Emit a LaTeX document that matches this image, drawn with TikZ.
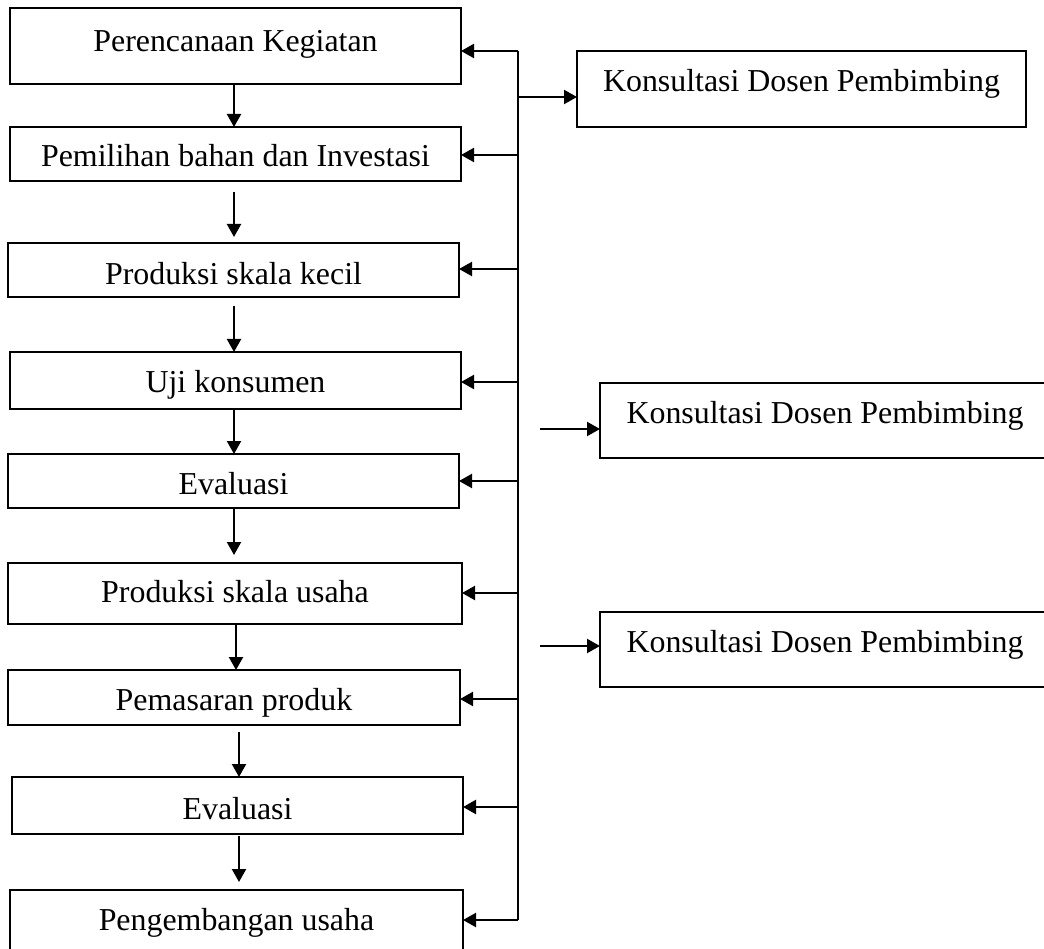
\documentclass[tikz,border=0pt]{standalone}
\usepackage{fontspec}
\setmainfont{Liberation Serif}
\usetikzlibrary{arrows.meta}
\newcommand\txtup[2]{\raisebox{#1pt}{#2}}
\begin{document}
\begin{tikzpicture}[x=1pt,y=-1pt,
  box/.style={draw, line width=2.2pt, inner sep=0pt, outer sep=0pt,
    text height=21pt, text depth=0pt, font=\fontsize{31.9}{38}\selectfont},
  arr/.style={line width=2.2pt, -{Triangle[length=13pt,width=14pt]}},
  trunk/.style={line width=2.2pt}]
\useasboundingbox (0,0) rectangle (1044,949);
% main column
\node[box, minimum width=451, minimum height=76] (b1) at (235.5,46)  {\txtup{5}{Perencanaan Kegiatan}};
\node[box, minimum width=451, minimum height=54] (b2) at (235.5,154) {\txtup{-2}{Pemilihan bahan dan Investasi}};
\node[box, minimum width=451, minimum height=54] (b3) at (233.5,270) {\txtup{-4}{Produksi skala kecil}};
\node[box, minimum width=451, minimum height=57] (b4) at (235.5,380.5) {\txtup{-1.5}{Uji konsumen}};
\node[box, minimum width=451, minimum height=54] (b5) at (233.5,481) {\txtup{-3}{Evaluasi}};
\node[box, minimum width=454, minimum height=61] (b6) at (235,593.5) {\txtup{1.5}{Produksi skala usaha}};
\node[box, minimum width=452, minimum height=55] (b7) at (234,697.5) {\txtup{-2.5}{Pemasaran produk}};
\node[box, minimum width=451, minimum height=57] (b8) at (237.5,805.5) {\txtup{-3.5}{Evaluasi}};
\node[box, minimum width=453, minimum height=62] (b9) at (236.5,921) {\txtup{1}{Pengembangan usaha}};
% consultation boxes
\node[box, minimum width=449, minimum height=76] (k1) at (801.5,89)  {\txtup{8}{Konsultasi Dosen Pembimbing}};
\node[box, minimum width=450, minimum height=75] (k2) at (825,420.5) {\txtup{7.5}{Konsultasi Dosen Pembimbing}};
\node[box, minimum width=450, minimum height=75] (k3) at (825,649.5) {\txtup{7.5}{Konsultasi Dosen Pembimbing}};
% down arrows
\draw[arr] ([xshift=-1.5pt]b1.south) -- ([xshift=-1.5pt]b2.north);
\draw[arr] ([xshift=-1.5pt,yshift=-11pt]b2.south) -- ([xshift=0.5pt,yshift=6pt]b3.north);
\draw[arr] ([xshift=0.5pt,yshift=-9pt]b3.south) -- ([xshift=-1.5pt]b4.north);
\draw[arr] ([xshift=-1.5pt]b4.south) -- ([xshift=0.5pt]b5.north);
\draw[arr] ([xshift=0.5pt,yshift=-1pt]b5.south) -- ([xshift=-1pt,yshift=8pt]b6.north);
\draw[arr] ([xshift=1pt]b6.south) -- ([xshift=2pt]b7.north);
\draw[arr] ([xshift=5pt,yshift=-7pt]b7.south) -- ([xshift=1.5pt]b8.north);
\draw[arr] ([xshift=1.5pt,yshift=-2pt]b8.south) -- ([xshift=2.5pt,yshift=8pt]b9.north);
% trunk and feedback arrows
\coordinate (t1) at (518,51);
\coordinate (t2) at (518,155);
\coordinate (t3) at (518,269);
\coordinate (t4) at (518,382);
\coordinate (t5) at (518,481);
\coordinate (t6) at (518,593);
\coordinate (t7) at (518,699);
\coordinate (t8) at (518,807);
\coordinate (t9) at (518,920);
\draw[trunk] (t1) -- (t9);
\foreach \i in {1,...,9}{
  \draw[arr] (t\i) -- (b\i.east |- t\i);
}
\coordinate (s1) at (518,97);
\coordinate (s2) at (540,429);
\coordinate (s3) at (540,646);
\draw[arr] (s1) -- (k1.west |- s1);
\draw[arr] (s2) -- (k2.west |- s2);
\draw[arr] (s3) -- (k3.west |- s3);
\end{tikzpicture}
\end{document}
